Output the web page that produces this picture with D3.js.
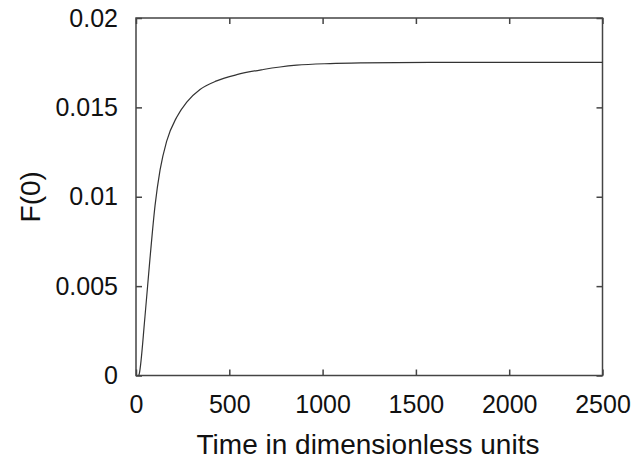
<!DOCTYPE html>
<html>
<head>
<meta charset="utf-8">
<script src="https://cdn.jsdelivr.net/npm/d3@7"></script>
<style>
  body { margin: 0; background: #fff; }
  text { font-family: "Liberation Sans", Arial, sans-serif; fill: #111; }
</style>
</head>
<body>
<div id="chart"></div>
<script>
// values
var times  = [15, 18, 48, 75, 102, 129, 164, 218, 272, 343, 432, 540, 682, 772, 861, 1040, 1216, 1576, 2000, 2500];
var values = [0, 0.00012, 0.00329, 0.00655, 0.00950, 0.01150, 0.01310, 0.01445, 0.01530, 0.01600, 0.01648, 0.01683, 0.01712, 0.01726, 0.01736, 0.01745, 0.01749, 0.01752, 0.01752, 0.01752];
var xTicks = [0, 500, 1000, 1500, 2000, 2500];
var yTicks = [0, 0.005, 0.01, 0.015, 0.02];

var width = 634,
    height = 459,
    mLeft = 136, mRight = 602.5, mTop = 18, mBottom = 375.5;

var svg = d3.select("#chart").append("svg")
    .attr("width", width)
    .attr("height", height);

var x = d3.scaleLinear().domain([0, 2500]).range([mLeft, mRight]);
var y = d3.scaleLinear().domain([0, 0.02]).range([mBottom, mTop]);

var tickLen = 6;

// frame
svg.append("rect")
    .attr("x", mLeft).attr("y", mTop)
    .attr("width", mRight - mLeft).attr("height", mBottom - mTop)
    .style("fill", "none").style("stroke", "#444").style("stroke-width", 1.5);

// bottom axis with mirrored ticks
var xAxis = svg.append("g")
    .attr("transform", "translate(0," + mBottom + ")")
    .call(d3.axisBottom(x).tickValues(xTicks).tickSizeInner(-tickLen).tickSizeOuter(0).tickPadding(20)
        .tickFormat(d3.format("d")));
xAxis.select(".domain").remove();
xAxis.selectAll("text").style("font-size", "25px").attr("fill", "#111")
    .attr("font-family", null);

var xTop = svg.append("g")
    .attr("transform", "translate(0," + mTop + ")")
    .call(d3.axisTop(x).tickValues(xTicks).tickSizeInner(-tickLen).tickSizeOuter(0).tickFormat(""));
xTop.select(".domain").remove();

var yAxis = svg.append("g")
    .attr("transform", "translate(" + mLeft + ",0)")
    .call(d3.axisLeft(y).tickValues(yTicks).tickSizeInner(-tickLen).tickSizeOuter(0).tickPadding(18)
        .tickFormat(function(d) { return d === 0 ? "0" : String(+d.toFixed(3)); }));
yAxis.select(".domain").remove();
yAxis.selectAll("text").style("font-size", "25px").attr("fill", "#111")
    .attr("font-family", null);

var yRight = svg.append("g")
    .attr("transform", "translate(" + mRight + ",0)")
    .call(d3.axisRight(y).tickValues(yTicks).tickSizeInner(-tickLen).tickSizeOuter(0).tickFormat(""));
yRight.select(".domain").remove();

svg.selectAll(".tick line").style("stroke", "#444").style("stroke-width", 1.5);

// the curve
var line = d3.line()
    .x(function(d, i) { return x(times[i]); })
    .y(function(d) { return y(d); })
    .curve(d3.curveMonotoneX);

svg.append("path")
    .datum(values)
    .attr("d", line)
    .style("fill", "none")
    .style("stroke", "#333")
    .style("stroke-width", 1.2);

// axis titles
svg.append("text")
    .attr("x", 368)
    .attr("y", 454)
    .attr("text-anchor", "middle")
    .style("font-size", "28px")
    .text("Time in dimensionless units");

svg.append("text")
    .attr("transform", "translate(40," + ((mTop + mBottom) / 2) + ") rotate(-90)")
    .attr("text-anchor", "middle")
    .style("font-size", "28px")
    .text("F(0)");
</script>
</body>
</html>
